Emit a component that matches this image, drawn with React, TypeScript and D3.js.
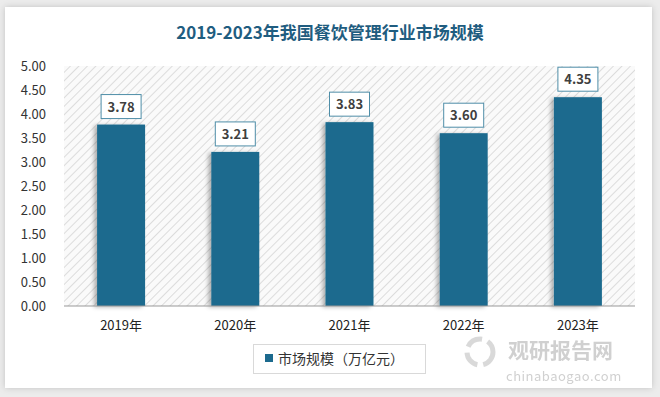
import * as d3 from 'd3';

const years = ['2019年', '2020年', '2021年', '2022年', '2023年'];
const marketSize = [3.78, 3.21, 3.83, 3.6, 4.35];
const yTicks = [0, 0.5, 1, 1.5, 2, 2.5, 3, 3.5, 4, 4.5, 5];

const W = 660;
const H = 397;
const BAR = '#1c6a8e';
const FONT = '"Noto Sans CJK SC", "Noto Sans", sans-serif';

export default function App() {
  const x = d3.scaleBand<string>().domain(years).range([64, 635]).paddingInner(0.58).paddingOuter(0.29);
  const y = d3.scaleLinear().domain([0, 5]).range([306, 66]);

  return (
    <svg width={W} height={H} style={{ position: 'absolute', left: 0, top: 0, background: '#ececec' }}>
      <defs>
        <pattern id="hatch" width="6" height="6" patternUnits="userSpaceOnUse" patternTransform="rotate(45)">
          <rect width="6" height="6" fill="#fafafa" />
          <line x1="0" y1="0" x2="0" y2="6" stroke="#dcdcdc" strokeWidth="2" />
        </pattern>
        <filter id="card" x="-5%" y="-5%" width="110%" height="110%">
          <feDropShadow dx="0" dy="0" stdDeviation="3" floodColor="#000" floodOpacity="0.18" />
        </filter>
        <filter id="barShadow" x="-30%" y="-5%" width="160%" height="110%">
          <feDropShadow dx="-3" dy="1" stdDeviation="2" floodColor="#000" floodOpacity="0.3" />
        </filter>
      </defs>
      <rect x={5} y={7} width={647} height={381} fill="#fff" filter="url(#card)" />

      <text x={330} y={39} textAnchor="middle" fontFamily={FONT} fontWeight={700} fontSize={17} fill="#1f5d80">
        2019-2023年我国餐饮管理行业市场规模
      </text>

      <rect x={64} y={y(5)} width={571} height={y(0) - y(5)} fill="url(#hatch)" />

      {yTicks.map((t) => (
        <text key={t} x={46} y={y(t) + 5} textAnchor="end" fontFamily={FONT} fontSize={13} fill="#333">
          {t.toFixed(2)}
        </text>
      ))}

      {years.map((yr, i) => {
        const v = marketSize[i];
        const bx = x(yr)!;
        const cx = bx + x.bandwidth() / 2;
        return (
          <g key={yr}>
            <rect x={bx} y={y(v)} width={x.bandwidth()} height={y(0) - y(v)} fill={BAR} filter="url(#barShadow)" />
            <rect x={cx - 20} y={y(v) - 30} width={40} height={24} fill="#fff" stroke="#4f8ea8" strokeWidth={1} />
            <text x={cx} y={y(v) - 13} textAnchor="middle" fontFamily={FONT} fontWeight={700} fontSize={13} fill="#404040">
              {v.toFixed(2)}
            </text>
            <text x={cx} y={330} textAnchor="middle" fontFamily={FONT} fontSize={13} fill="#222">
              {yr}
            </text>
          </g>
        );
      })}

      <line x1={64} x2={635} y1={y(0)} y2={y(0)} stroke="#999" strokeWidth={1} />

      <rect x={253.5} y={344.5} width={172} height={29} fill="#fff" stroke="#d9d9d9" />
      <rect x={265} y={354} width={8} height={8} fill={BAR} />
      <text x={278} y={364} fontFamily={FONT} fontSize={14} fill="#333">市场规模（万亿元）</text>

      <g opacity={0.55}>
        <circle cx={480} cy={352} r={13} fill="none" stroke="#bbb" strokeWidth={5} strokeDasharray="17 6" />
        <text x={508} y={358} fontFamily={FONT} fontWeight={700} fontSize={21} fill="#aaa">观研报告网</text>
        <text x={506} y={381} fontFamily={FONT} fontSize={13} fill="#aaa" letterSpacing={0.5}>chinabaogao.com</text>
      </g>
    </svg>
  );
}
